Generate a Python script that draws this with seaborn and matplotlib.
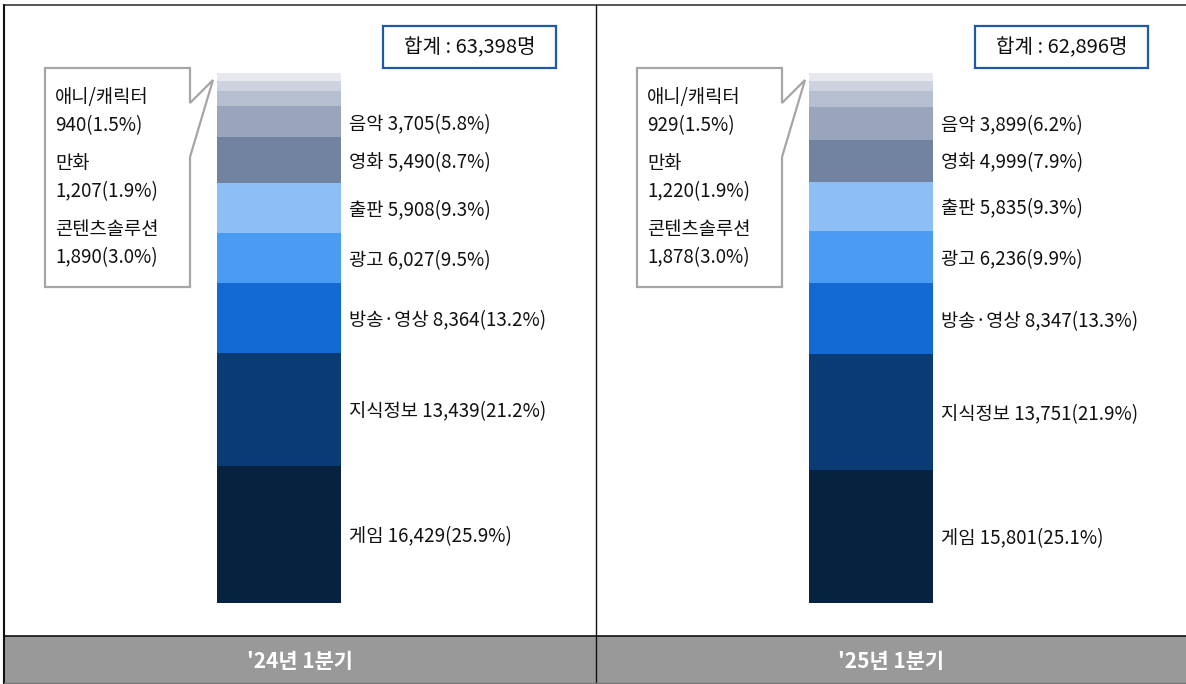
import matplotlib
matplotlib.use("Agg")
import matplotlib.pyplot as plt
from matplotlib.patches import Rectangle, Polygon
from matplotlib.lines import Line2D
import seaborn as sns
import pandas as pd

# Content-industry headcount by sector, stacked bottom -> top
periods = ["'24년 1분기", "'25년 1분기"]
totals = [63398, 62896]
categories = ["게임", "지식정보", "방송·영상", "광고", "출판", "영화", "음악",
              "콘텐츠솔루션", "만화", "애니/캐릭터"]
values_24 = [16429, 13439, 8364, 6027, 5908, 5490, 3705, 1890, 1207, 940]
values_25 = [15801, 13751, 8347, 6236, 5835, 4999, 3899, 1878, 1220, 929]
colors = ["#06223f", "#0b3b74", "#136ad4", "#4a9bf2", "#8dbef5", "#7283a2",
          "#98a5bc", "#b5bfd0", "#ccd2de", "#e7e9ef"]
callout_cats = ["애니/캐릭터", "만화", "콘텐츠솔루션"]

sns.set_style("white")
plt.rcParams["font.family"] = ["Noto Sans CJK KR", "DejaVu Sans"]

W, H = 1186, 684
fig = plt.figure(figsize=(W / 100, H / 100), dpi=100)


def fx(x):
    return x / W


def fy(y):
    return 1 - y / H


# long table with percentage and cumulative top of each segment
rows = []
for p, tot, vals in zip(periods, totals, [values_24, values_25]):
    cum = 0.0
    for c, v in zip(categories, vals):
        pct = v / tot * 100
        cum += pct
        rows.append(dict(period=p, category=c, value=v, pct=pct, top=cum))
df = pd.DataFrame(rows)

# axes: bars at x=0,1 ; one category unit = 592 px
unit = 592.0
bar_w = 124 / unit
c0 = 217 + 62
y_top, y_bot = 72.7, 603
ax = fig.add_axes([0, fy(y_bot), 1, (y_bot - y_top) / H])

for cat, col in reversed(list(zip(categories, colors))):
    sub = df[df.category == cat]
    sns.barplot(data=sub, x="period", y="top", order=periods, color=col,
                saturation=1, width=bar_w, errorbar=None, linewidth=0, ax=ax)

ax.set_xlim(-c0 / unit, (W - c0) / unit)
ax.set_ylim(0, 100)
ax.axis("off")

txt_kw = dict(fontsize=13.5, color="#111111")

# sector labels beside the bars
for i, p in enumerate(periods):
    sub = df[(df.period == p) & (~df.category.isin(callout_cats))]
    for _, r in sub.iterrows():
        ax.text(i + bar_w / 2 + 8 / unit, r.top - r.pct / 2,
                f"{r.category} {r.value:,}({r.pct:.1f}%)",
                ha="left", va="center_baseline", **txt_kw)

# frame of the two-panel table
fig.add_artist(Rectangle((fx(4), fy(684)), fx(W - 4), 48 / H,
                         facecolor="#999999", edgecolor="none",
                         transform=fig.transFigure))
for (x0, y0, x1, y1, col, lw) in [
    (4, 5, W, 5, "#555555", 1.4),
    (4, 5, 4, H, "#111111", 1.5),
    (595.5, 5, 595.5, H, "#111111", 1.0),
    (4, 635.5, W, 635.5, "#111111", 1.2),
    (4, 683, W, 683, "#777777", 1.0),
]:
    fig.add_artist(Line2D([fx(x0), fx(x1)], [fy(y0), fy(y1)], color=col,
                          lw=lw, transform=fig.transFigure))

panel_centers = [299.5, 890.5]
for p, cx in zip(periods, panel_centers):
    fig.text(fx(cx), fy(661), p, ha="center", va="center",
             fontsize=15, color="white", fontweight="bold")

# total boxes
for tot, bx in zip(totals, [383, 975]):
    fig.add_artist(Rectangle((fx(bx), fy(68)), 173 / W, 42 / H,
                             facecolor="white", edgecolor="#1f5aa6", lw=1.6,
                             transform=fig.transFigure))
    fig.text(fx(bx + 86.5), fy(47.5), f"합계 : {tot:,}명", ha="center",
             va="center", fontsize=14.5, color="#111111")

# callouts for the three smallest sectors
for i, (p, bx) in enumerate(zip(periods, [45, 637])):
    right = bx + 145
    tip = (bx + 168, 80)
    pts = [(bx, 68), (right, 68), (right, 103), tip, (right, 157),
           (right, 287), (bx, 287)]
    fig.add_artist(Polygon([(fx(x), fy(y)) for x, y in pts], closed=True,
                           facecolor="white", edgecolor="#a6a6a6", lw=1.6,
                           transform=fig.transFigure))
    sub = df[(df.period == p) & (df.category.isin(callout_cats))]
    sub = sub.set_index("category").loc[callout_cats]
    y = 97
    for cat, r in sub.iterrows():
        fig.text(fx(bx + 10), fy(y), cat, ha="left", va="center", **txt_kw)
        fig.text(fx(bx + 10), fy(y + 29), f"{r.value:,}({r.pct:.1f}%)",
                 ha="left", va="center", **txt_kw)
        y += 66

fig.savefig("out.png", dpi=100)
